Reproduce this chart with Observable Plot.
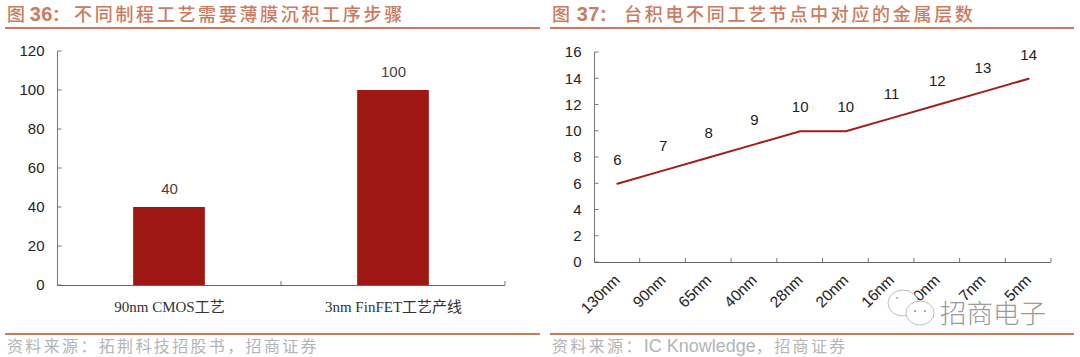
<!DOCTYPE html>
<html lang="zh-CN"><head><meta charset="utf-8">
<script src="https://cdn.jsdelivr.net/npm/d3@7"></script>
<script src="https://cdn.jsdelivr.net/npm/@observablehq/plot@0.6"></script>
<style>
html,body{margin:0;padding:0;background:#fff;width:1080px;height:357px;overflow:hidden}
.abs{position:absolute;white-space:nowrap}
.title{font:500 18px "Noto Sans CJK SC","Liberation Sans",sans-serif;color:#cb7a60;letter-spacing:2.67px;top:1px;line-height:24px}
.title b{font:700 20px "Liberation Sans",sans-serif;letter-spacing:.5px}
.source{font:400 16px "Noto Sans CJK SC","Liberation Sans",sans-serif;color:#b4b4b4;letter-spacing:2.35px;top:335px;line-height:20px}
.source span{font:400 18px "Liberation Sans",sans-serif;letter-spacing:0}
.rule{height:2px;background:#cb7a60}
.chart{top:0}
.chart svg{display:block}
#wm{left:940px;top:292px;font:300 26.5px "Noto Sans CJK SC",sans-serif;color:#9a9a9a;letter-spacing:0;text-shadow:0 0 2px #fff,0 0 2px #fff}
#wmi{left:886px;top:288px}
</style></head><body>
<div id="c1" class="abs chart" style="left:0"></div>
<div id="c2" class="abs chart" style="left:540px"></div>
<div class="abs title" style="left:7px">图<b style="margin:0 14px 0 2px">36:</b>不同制程工艺需要薄膜沉积工序步骤</div>
<div class="abs title" style="left:552px">图<b style="margin:0 17px 0 4px">37:</b>台积电不同工艺节点中对应的金属层数</div>
<div class="abs rule" style="left:5px;width:535px;top:27px"></div>
<div class="abs rule" style="left:550px;width:524px;top:27px"></div>
<div class="abs rule" style="left:5px;width:535px;top:333px"></div>
<div class="abs rule" style="left:550px;width:524px;top:333px"></div>
<div class="abs source" style="left:7px">资料来源&#xFF1A;拓荆科技招股书&#xFF0C;招商证券</div>
<div class="abs source" style="left:552px">资料来源&#xFF1A;<span>IC Knowledge</span>&#xFF0C;招商证券</div>
<svg id="wmi" class="abs" width="52" height="42" viewBox="0 0 52 42">
<ellipse cx="17" cy="15" rx="15" ry="13" fill="#fff" stroke="#bdbdbd" stroke-width="1"/>
<ellipse cx="34" cy="25" rx="14" ry="12" fill="#fff" stroke="#bdbdbd" stroke-width="1"/>
<circle cx="29" cy="23" r="1.2" fill="#aaa"/><circle cx="39" cy="23" r="1.2" fill="#aaa"/>
<circle cx="11" cy="10" r="1.2" fill="#bbb"/>
</svg>
<div id="wm" class="abs">招商电子</div>
<script>
const stepCats = ["90nm CMOS工艺", "3nm FinFET工艺产线"];
const stepVals = [40, 100];
const stepTicks = [0, 20, 40, 60, 80, 100, 120];
const nodeCats = ["130nm", "90nm", "65nm", "40nm", "28nm", "20nm", "16nm", "10nm", "7nm", "5nm"];
const nodeVals = [6, 7, 8, 9, 10, 10, 11, 12, 13, 14];
const nodeTicks = [0, 2, 4, 6, 8, 10, 12, 14, 16];

const RED = "#9f1713", AXIS = "#777", SANS = '"Liberation Sans","Noto Sans CJK SC",sans-serif';

// Axis line with inward ticks, positioned by the plot's own scales
function axisOverlay(s, ticks, n) {
  const g = d3.create("svg:g").attr("stroke", AXIS).attr("fill", "none");
  const r = s.x.range();
  const x0 = Math.min(...r), x1 = Math.max(...r);
  const y0 = s.y(0), yT = s.y(ticks[ticks.length - 1]);
  g.append("path").attr("d", `M${x0 + .5},${yT}V${y0}`);
  for (const t of ticks) g.append("path").attr("d", `M${x0 + .5},${s.y(t)}h4`);
  const b = (x1 - x0) / n;
  for (let k = 1; k <= n; k++) g.append("path").attr("d", `M${x0 + b * k},${y0}v-4`);
  return g.node();
}

const t1 = stepCats.map((c, i) => ({c, v: stepVals[i]}));
document.getElementById("c1").append(Plot.plot({
  width: 540, height: 357,
  marginLeft: 57, marginRight: 35, marginTop: 51, marginBottom: 72,
  style: {fontFamily: SANS, fontSize: "15px", background: "transparent", overflow: "visible"},
  x: {domain: stepCats, paddingInner: 0.68, paddingOuter: 0.34, round: false, label: null},
  y: {domain: [0, 120], label: null},
  marks: [
    Plot.barY(t1, {x: "c", y: "v", fill: RED}),
    Plot.axisY({ticks: stepTicks, tickSize: 0, tickPadding: 13, color: "#222", fontSize: 15, label: null}),
    Plot.axisX({tickSize: 0, tickPadding: 16, color: "#333", fontSize: 15, fontFamily: '"Liberation Serif","Noto Sans CJK SC",serif', label: null}),
    Plot.ruleY([0], {stroke: "#666", strokeWidth: 1}),
    Plot.text(t1, {x: "c", y: "v", text: d => String(d.v), dy: -18, fill: "#444", fontSize: 15}),
    (i, s) => axisOverlay(s, stepTicks, stepCats.length),
  ]
}));

const t2 = nodeCats.map((c, i) => ({c, v: nodeVals[i]}));
document.getElementById("c2").append(Plot.plot({
  width: 540, height: 357,
  marginLeft: 54, marginRight: 29, marginTop: 52, marginBottom: 95,
  style: {fontFamily: SANS, fontSize: "15px", background: "transparent", overflow: "visible"},
  x: {type: "band", domain: nodeCats, paddingInner: 0, paddingOuter: 0, round: false, label: null},
  y: {domain: [0, 16], label: null},
  marks: [
    Plot.line(t2, {x: "c", y: "v", stroke: "#a31c1c", strokeWidth: 2}),
    Plot.axisY({ticks: nodeTicks, tickSize: 0, tickPadding: 13, color: "#222", fontSize: 15, label: null}),
    Plot.axisX({tickSize: 0, tickPadding: 15, tickRotate: -45, color: "#222", fontSize: 15.5, label: null}),
    Plot.ruleY([0], {stroke: "#666", strokeWidth: 1}),
    Plot.text(t2, {x: "c", y: "v", text: d => String(d.v), dy: -24, fill: "#222", fontSize: 15}),
    (i, s) => axisOverlay(s, nodeTicks, nodeCats.length),
  ]
}));
</script>
</body></html>
